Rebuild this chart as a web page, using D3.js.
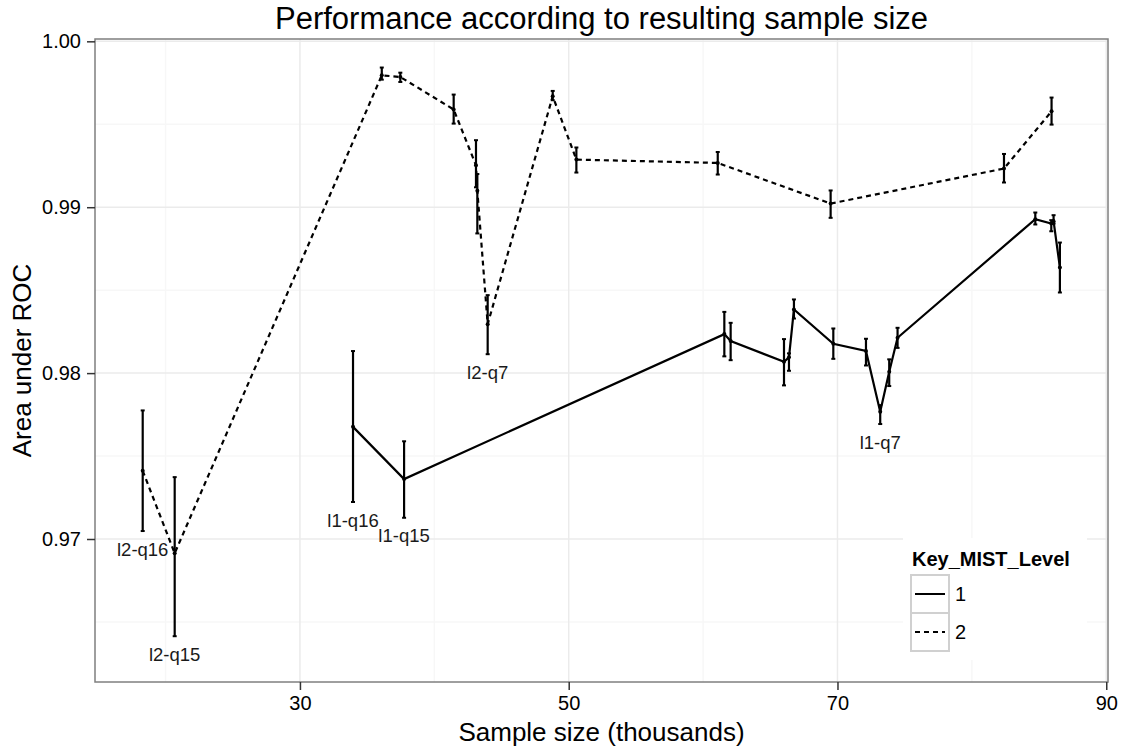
<!DOCTYPE html>
<html>
<head>
<meta charset="utf-8">
<script src="https://cdn.jsdelivr.net/npm/d3@7"></script>
<style>
  body { margin: 0; background: #fff; }
  text { font-family: "Liberation Sans", Arial, sans-serif; }
</style>
</head>
<body>
<svg id="chart" width="1124" height="747"></svg>
<script>
// level 1 (solid)
var s1x = [33.95, 37.75, 61.58, 62.05, 66.02, 66.39, 66.76, 69.69, 72.12, 73.18, 73.85, 74.47, 84.72, 85.91, 86.08, 86.55]
var s1y = [0.97676, 0.97361, 0.98235, 0.98193, 0.98068, 0.98095, 0.98384, 0.98177, 0.98133, 0.97767, 0.98008, 0.98213, 0.98928, 0.98902, 0.98916, 0.98637]
var s1lo = [0.97223, 0.97128, 0.98101, 0.98078, 0.97926, 0.98014, 0.98329, 0.98086, 0.98046, 0.97693, 0.97922, 0.98152, 0.98896, 0.98855, 0.98902, 0.98486]
var s1hi = [0.98133, 0.97589, 0.98369, 0.98303, 0.98205, 0.98119, 0.98444, 0.98269, 0.98207, 0.97807, 0.98083, 0.98273, 0.98968, 0.98922, 0.98952, 0.98787]
var s1lab = ['l1-q16', 'l1-q15', '', '', '', '', '', '', '', 'l1-q7', '', '', '', '', '', '']

// level 2 (dashed)
var s2x = [18.30, 20.68, 36.09, 37.47, 41.44, 43.10, 43.20, 43.97, 48.81, 50.57, 61.09, 69.49, 82.39, 85.93]
var s2y = [0.97411, 0.96914, 0.99795, 0.99785, 0.99589, 0.99253, 0.99100, 0.98295, 0.99669, 0.99287, 0.99267, 0.99022, 0.99233, 0.99578]
var s2lo = [0.97048, 0.96414, 0.99769, 0.99755, 0.99504, 0.99120, 0.98842, 0.98114, 0.99645, 0.99209, 0.99197, 0.98936, 0.99149, 0.99498]
var s2hi = [0.97775, 0.97373, 0.99842, 0.99811, 0.99679, 0.99404, 0.99200, 0.98470, 0.99701, 0.99360, 0.99333, 0.99101, 0.99321, 0.99661]
var s2lab = ['l2-q16', 'l2-q15', '', '', '', '', '', 'l2-q7', '', '', '', '', '', '']

var levels = ['1', '2']
var xTicks = [30, 50, 70, 90]
var xMinor = [20, 40, 60, 80]
var yTicks = [0.97, 0.98, 0.99, 1.00]
var yMinor = [0.965, 0.975, 0.985, 0.995]

var chartTitle = 'Performance according to resulting sample size'
var xTitle = 'Sample size (thousands)'
var yTitle = 'Area under ROC'
var legendTitle = 'Key_MIST_Level'

function rows (xs, ys, lo, hi, lab) {
  return xs.map(function (x, i) {
    return {x: x, y: ys[i], lo: lo[i], hi: hi[i], label: lab[i]}
  })
}

var series = [
  {level: levels[0], dash: null, values: rows(s1x, s1y, s1lo, s1hi, s1lab)},
  {level: levels[1], dash: '5,4', values: rows(s2x, s2y, s2lo, s2hi, s2lab)}
]

var padding = {top: 39, bottom: 65, left: 95, right: 16}
var width = 1124
var height = 747
var innerw = width - padding.left - padding.right
var innerh = height - padding.top - padding.bottom

var svg = d3.select('#chart')
var g = svg.append('g')
    .attr('transform', `translate(${padding.left},${padding.top})`)

var mapx = d3.scaleLinear()
    .domain([14.75, 90.13])
    .range([0, innerw])

var mapy = d3.scaleLinear()
    .domain([0.96138, 1.00014])
    .range([innerh, 0])

/*
    grid
*/
g.append('g').selectAll('line')
    .data(xMinor)
    .join('line')
    .attr('x1', d => mapx(d)).attr('x2', d => mapx(d))
    .attr('y1', 0).attr('y2', innerh)
    .attr('stroke', '#f7f7f7').attr('stroke-width', 1.5)

g.append('g').selectAll('line')
    .data(yMinor)
    .join('line')
    .attr('y1', d => mapy(d)).attr('y2', d => mapy(d))
    .attr('x1', 0).attr('x2', innerw)
    .attr('stroke', '#f7f7f7').attr('stroke-width', 1.5)

g.append('g').selectAll('line')
    .data(xTicks)
    .join('line')
    .attr('x1', d => mapx(d)).attr('x2', d => mapx(d))
    .attr('y1', 0).attr('y2', innerh)
    .attr('stroke', '#ebebeb').attr('stroke-width', 1.5)

g.append('g').selectAll('line')
    .data(yTicks)
    .join('line')
    .attr('y1', d => mapy(d)).attr('y2', d => mapy(d))
    .attr('x1', 0).attr('x2', innerw)
    .attr('stroke', '#ebebeb').attr('stroke-width', 1.5)

/*
    lines, error bars, points
*/
var line = d3.line()
    .x(d => mapx(d.x))
    .y(d => mapy(d.y))

var sg = g.append('g').selectAll('g')
    .data(series)
    .join('g')

sg.append('path')
    .attr('d', d => line(d.values))
    .attr('fill', 'none')
    .attr('stroke', '#000')
    .attr('stroke-width', 2.2)
    .attr('stroke-dasharray', d => d.dash)

var eb = sg.selectAll('.eb')
    .data(d => d.values)
    .join('g')
    .classed('eb', true)

eb.append('line')
    .attr('x1', d => mapx(d.x)).attr('x2', d => mapx(d.x))
    .attr('y1', d => mapy(d.lo)).attr('y2', d => mapy(d.hi))
    .attr('stroke', '#000').attr('stroke-width', 2.2)

eb.append('line')
    .attr('x1', d => mapx(d.x) - 2).attr('x2', d => mapx(d.x) + 2)
    .attr('y1', d => mapy(d.lo)).attr('y2', d => mapy(d.lo))
    .attr('stroke', '#000').attr('stroke-width', 2)

eb.append('line')
    .attr('x1', d => mapx(d.x) - 2).attr('x2', d => mapx(d.x) + 2)
    .attr('y1', d => mapy(d.hi)).attr('y2', d => mapy(d.hi))
    .attr('stroke', '#000').attr('stroke-width', 2)

eb.append('circle')
    .attr('cx', d => mapx(d.x))
    .attr('cy', d => mapy(d.y))
    .attr('r', 2)
    .attr('fill', '#000')

eb.filter(d => d.label)
    .append('text')
    .attr('x', d => mapx(d.x))
    .attr('y', d => mapy(d.lo) + 18)
    .attr('text-anchor', 'middle')
    .attr('dominant-baseline', 'central')
    .attr('font-size', 18.5)
    .attr('fill', '#1a1a1a')
    .text(d => d.label)

/*
    panel border
*/
g.append('rect')
    .attr('width', innerw)
    .attr('height', innerh)
    .attr('fill', 'none')
    .attr('stroke', '#7f7f7f')
    .attr('stroke-width', 1.5)

/*
    axes
*/
var xAxis = d3.axisBottom(mapx)
    .tickValues(xTicks)
    .tickSize(8)
    .tickPadding(6)
    .tickFormat(d3.format('d'))

var ax = g.append('g')
    .attr('transform', `translate(0,${innerh})`)
    .call(xAxis)

var yAxis = d3.axisLeft(mapy)
    .tickValues(yTicks)
    .tickSize(8)
    .tickPadding(6)
    .tickFormat(d3.format('.2f'))

var ay = g.append('g').call(yAxis)

;[ax, ay].forEach(function (a) {
  a.select('.domain').remove()
  a.selectAll('.tick line').attr('stroke', '#333').attr('stroke-width', 1.5)
  a.selectAll('.tick text')
      .attr('font-family', '"Liberation Sans", Arial, sans-serif')
      .attr('font-size', 20)
      .attr('fill', '#000')
})

svg.append('text')
    .attr('x', padding.left + innerw / 2)
    .attr('y', 29)
    .attr('text-anchor', 'middle')
    .attr('font-size', 31)
    .text(chartTitle)

svg.append('text')
    .attr('x', padding.left + innerw / 2)
    .attr('y', 741)
    .attr('text-anchor', 'middle')
    .attr('font-size', 26)
    .text(xTitle)

svg.append('text')
    .attr('transform', `translate(31,${padding.top + innerh / 2}) rotate(-90)`)
    .attr('text-anchor', 'middle')
    .attr('font-size', 26)
    .text(yTitle)

/*
    legend
*/
var lg = svg.append('g')
    .attr('transform', 'translate(903,538)')

lg.append('rect')
    .attr('width', 184)
    .attr('height', 122)
    .attr('fill', '#fff')

lg.append('text')
    .attr('x', 9)
    .attr('y', 28)
    .attr('font-size', 20)
    .attr('font-weight', 'bold')
    .text(legendTitle)

var key = lg.selectAll('.key')
    .data(series)
    .join('g')
    .classed('key', true)
    .attr('transform', (d, i) => `translate(8,${37 + i * 38})`)

key.append('rect')
    .attr('width', 38)
    .attr('height', 38)
    .attr('fill', '#fff')
    .attr('stroke', '#d0d0d0')
    .attr('stroke-width', 2)

key.append('line')
    .attr('x1', 4).attr('x2', 34)
    .attr('y1', 19).attr('y2', 19)
    .attr('stroke', '#000')
    .attr('stroke-width', 2)
    .attr('stroke-dasharray', d => d.dash)

key.append('text')
    .attr('x', 44)
    .attr('y', 19)
    .attr('dominant-baseline', 'central')
    .attr('font-size', 20)
    .text(d => d.level)
</script>
</body>
</html>
